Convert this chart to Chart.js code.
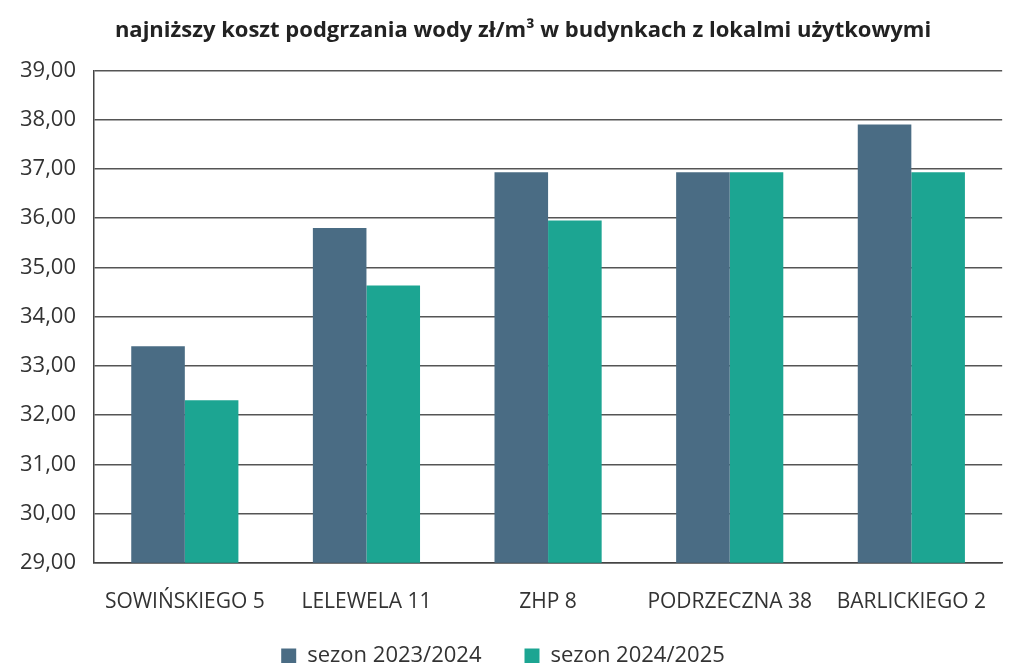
<!DOCTYPE html>
<html>
<head>
<meta charset="utf-8">
<script src="https://cdn.jsdelivr.net/npm/chart.js@4"></script>
<style>
  html, body { margin: 0; padding: 0; background: #fff; }
  #wrap { width: 1014px; height: 663px; }
</style>
</head>
<body>
<div id="wrap"><canvas id="chart"></canvas></div>
<script>
const categories = ["SOWIŃSKIEGO 5", "LELEWELA 11", "ZHP 8", "PODRZECZNA 38", "BARLICKIEGO 2"];
const season2023 = [33.4, 35.8, 36.93, 36.93, 37.9];
const season2024 = [32.3, 34.63, 35.95, 36.93, 36.93];
const seriesLabels = ["sezon 2023/2024", "sezon 2024/2025"];

const fontFamily = "'Open Sans', 'Noto Sans', sans-serif";
// title sits a bit right of the canvas centre in the original
const titleText = "\u00A0".repeat(7) + "najniższy koszt podgrzania wody zł/m³ w budynkach z lokalmi użytkowymi";

new Chart(document.getElementById("chart"), {
  type: "bar",
  data: {
    labels: categories,
    datasets: [
      {
        label: seriesLabels[0],
        data: season2023,
        backgroundColor: "#4a6c84",
        barPercentage: 1.0,
        categoryPercentage: 0.59,
      },
      {
        label: seriesLabels[1],
        data: season2024,
        backgroundColor: "#1ca592",
        barPercentage: 1.0,
        categoryPercentage: 0.59,
      },
    ],
  },
  options: {
    responsive: true,
    maintainAspectRatio: false,
    animation: false,
    layout: { padding: { left: 2, right: 10, top: 4, bottom: -14 } },
    plugins: {
      title: {
        display: true,
        text: titleText,
        color: "#222",
        font: { family: fontFamily, size: 22, weight: "bold" },
        padding: { top: 14, bottom: 26 },
      },
      legend: {
        position: "bottom",
        labels: {
          color: "#333",
          font: { family: fontFamily, size: 22 },
          boxWidth: 15,
          boxHeight: 15,
          padding: 3,
          generateLabels: (chart) =>
            Chart.defaults.plugins.legend.labels.generateLabels(chart).map((item, i) => {
              if (i === 0) item.text = item.text + "\u00A0".repeat(7);
              return item;
            }),
        },
      },
      tooltip: { enabled: false },
    },
    scales: {
      x: {
        grid: { display: false, drawTicks: false },
        border: { color: "#444", width: 1.5 },
        ticks: {
          color: "#333",
          font: { family: fontFamily, size: 21 },
          padding: 27,
          maxRotation: 0,
          autoSkip: false,
        },
      },
      y: {
        min: 29,
        max: 39,
        grid: { color: "#555", lineWidth: 1.5, drawTicks: false },
        border: { color: "#444", width: 1.5 },
        ticks: {
          stepSize: 1,
          color: "#333",
          font: { family: fontFamily, size: 22 },
          padding: 18,
          callback: (v) => v.toFixed(2).replace(".", ","),
        },
      },
    },
  },
});
</script>
</body>
</html>
